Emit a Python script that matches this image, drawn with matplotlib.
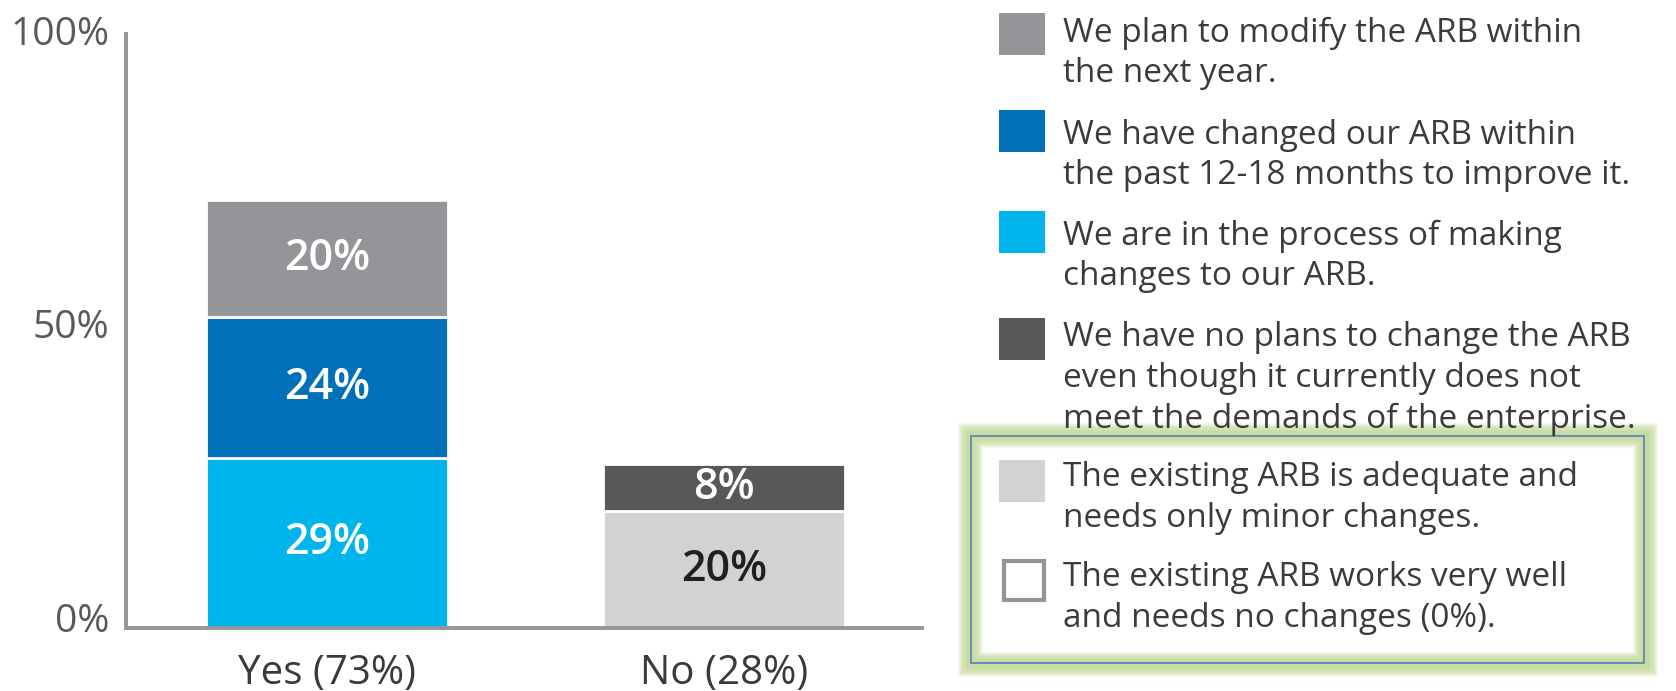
import matplotlib
matplotlib.use("Agg")
import matplotlib.pyplot as plt
from matplotlib.patches import Rectangle
from matplotlib.transforms import ScaledTranslation

plt.rcParams['font.family'] = ['Open Sans', 'DejaVu Sans']

# data
groups = ['Yes (73%)', 'No (28%)']
yes_vals = [29, 24, 20]          # process, changed, plan (bottom -> top)
no_vals = [20, 8]                # adequate, no plans (bottom -> top)
yes_colors = ['#00b5ec', '#0071b9', '#939598']
no_colors = ['#d1d2d4', '#58585a']
yes_text = ['white', 'white', 'white']
no_text = ['#231f20', 'white']

legend_labels = [
    'We plan to modify the ARB within\nthe next year.',
    'We have changed our ARB within\nthe past 12-18 months to improve it.',
    'We are in the process of making\nchanges to our ARB.',
    'We have no plans to change the ARB\neven though it currently does not\nmeet the demands of the enterprise.',
    'The existing ARB is adequate and\nneeds only minor changes.',
    'The existing ARB works very well\nand needs no changes (0%).',
]
legend_colors = ['#939598', '#0071b9', '#00b5ec', '#58585a', '#d1d2d4', 'white']

W, H = 1676, 691
fig = plt.figure(figsize=(W / 100, H / 100), dpi=100)
ax = fig.add_axes([126 / W, 63 / H, 796 / W, 594 / H])


def stack(ax, x, vals, colors, tcolors):
    bottom = 0
    for v, c, tc in zip(vals, colors, tcolors):
        ax.bar(x, v, bottom=bottom, width=0.61, color=c, edgecolor='white', linewidth=2, zorder=2)
        ax.text(x, bottom + v / 2, f'{v}%', ha='center', va='center', color=tc,
                fontsize=31, fontweight='semibold', zorder=3)
        bottom += v


stack(ax, 0, yes_vals, yes_colors, yes_text)
stack(ax, 1, no_vals, no_colors, no_text)

ax.set_xlim(-0.506, 1.499)
ax.set_ylim(0, 101.2)
ax.set_yticks([0, 50, 100])
ax.set_yticklabels(['0%', '50%', '100%'], fontsize=28, color='#58595b')
ax.set_xticks([0, 1])
ax.set_xticklabels(groups, fontsize=29, color='#3a3a3c')
ax.tick_params(length=0)
ax.tick_params(axis='y', pad=12)
ax.tick_params(axis='x', pad=18)
for lab in ax.get_yticklabels():
    lab.set_transform(lab.get_transform() + ScaledTranslation(0, 0.11, fig.dpi_scale_trans))
for s in ['top', 'right']:
    ax.spines[s].set_visible(False)
for s in ['left', 'bottom']:
    ax.spines[s].set_color('#939598')
    ax.spines[s].set_linewidth(2.8)
    ax.spines[s].set_zorder(4)


def fx(px):
    return px / W


def fy(py):
    return 1 - py / H


# green glow box around the last two legend items
for i in range(12, 0, -1):
    fig.patches.append(Rectangle((fx(971 - i), fy(663 + i)), (673 + 2 * i) / W, (227 + 2 * i) / H,
                                 transform=fig.transFigure, facecolor='none',
                                 edgecolor='#c5d99a', linewidth=2.5, alpha=0.1 + 0.05 * (12 - i)))
for i in range(1, 12):
    fig.patches.append(Rectangle((fx(971 + i), fy(663 - i)), (673 - 2 * i) / W, (227 - 2 * i) / H,
                                 transform=fig.transFigure, facecolor='none',
                                 edgecolor='#c5d99a', linewidth=2.5, alpha=0.65 - 0.055 * i))
fig.patches.append(Rectangle((fx(971), fy(663)), 673 / W, 227 / H, transform=fig.transFigure,
                             facecolor='none', edgecolor='#4f81bd', linewidth=1.2))

# legend
first_line = [33, 135, 236, 338, 478, 578]
sq_top = [13, 110, 211, 318, 460, 561]
step = 40.6
for lab, c, y0, st in zip(legend_labels, legend_colors, first_line, sq_top):
    if c == 'white':
        fig.patches.append(Rectangle((fx(1004), fy(st + 39)), 40 / W, 39 / H, transform=fig.transFigure,
                                     facecolor='white', edgecolor='#939598', linewidth=3))
    else:
        fig.patches.append(Rectangle((fx(999), fy(st + 42)), 46 / W, 42 / H, transform=fig.transFigure,
                                     facecolor=c, edgecolor='none'))
    for k, line in enumerate(lab.split('\n')):
        fig.text(fx(1063), fy(y0 + k * step), line, ha='left', va='center',
                 fontsize=24, color='#3b3b3d')

fig.savefig('out.png', dpi=100)
